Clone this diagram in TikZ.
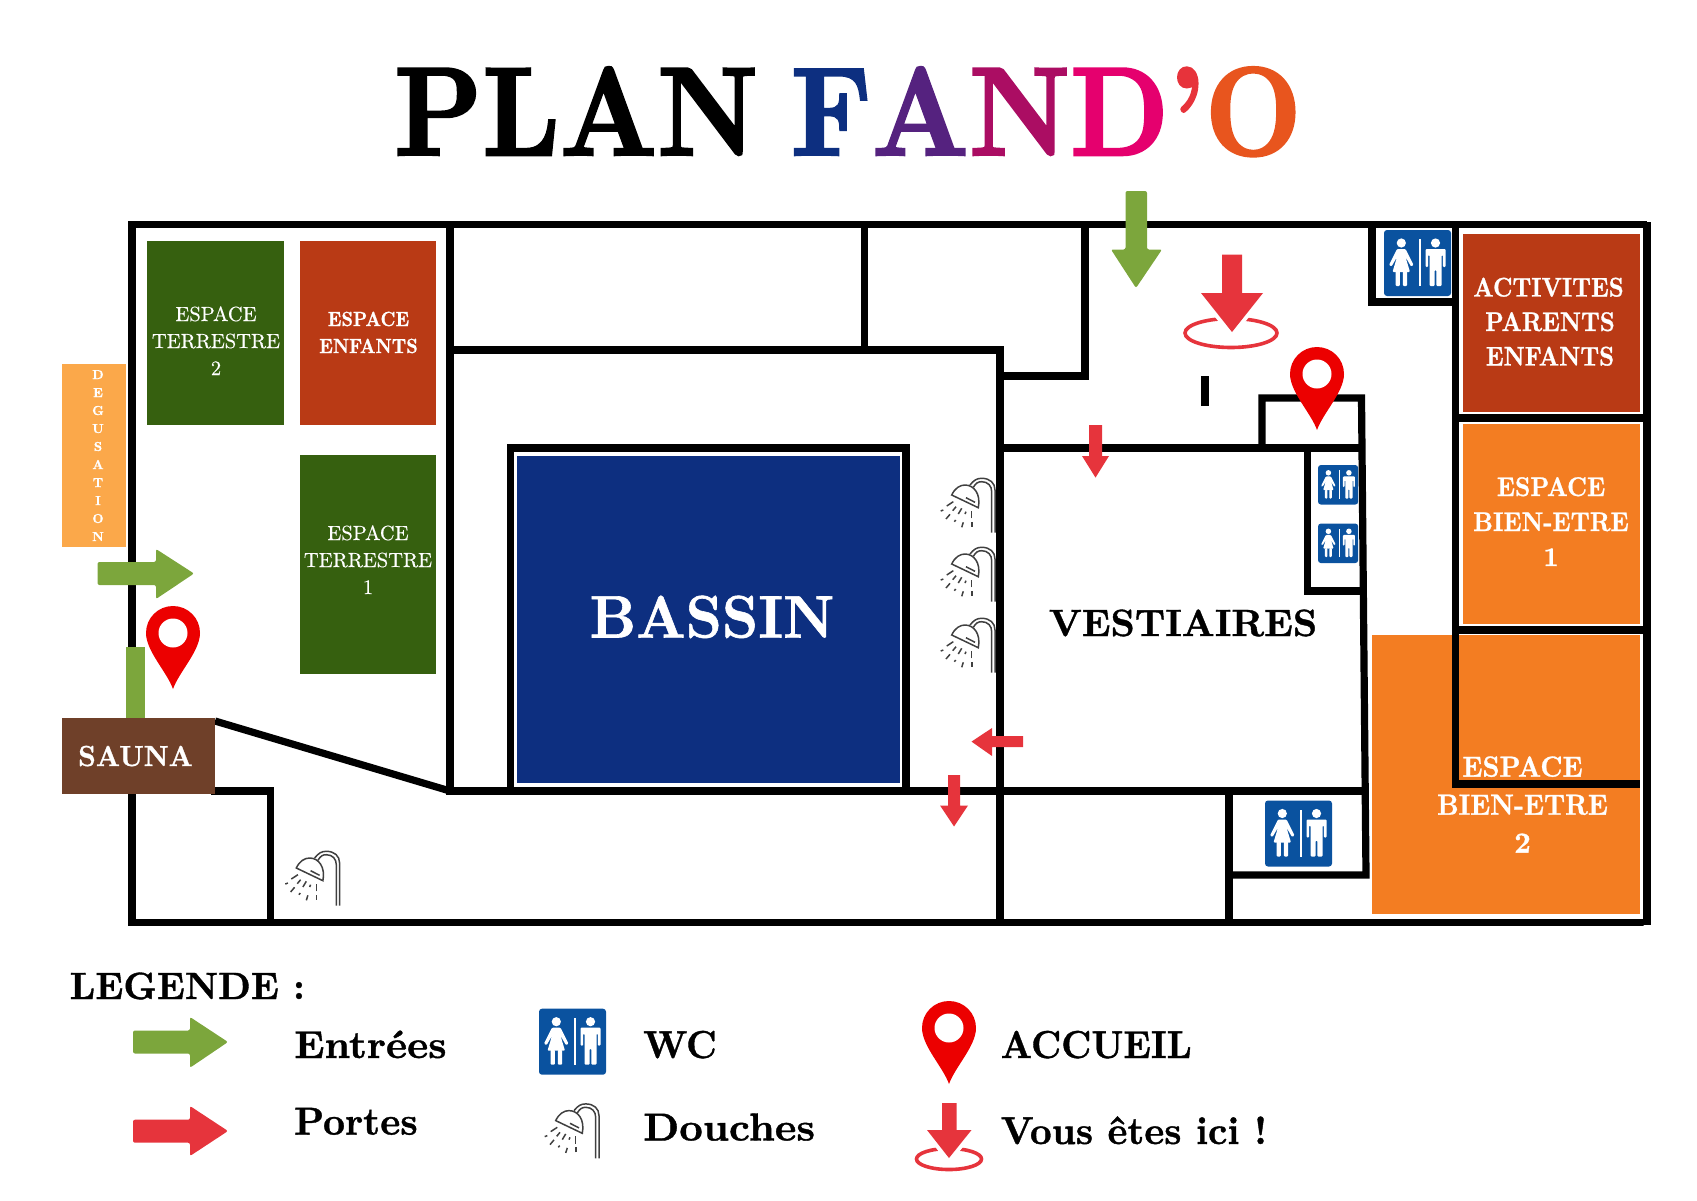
\documentclass[tikz,border=0pt]{standalone}
\usepackage{graphicx}
\usepackage{fontspec}
\newfontface\titleface{lmroman10-bold.otf}[FakeBold=2]
\newfontface\fatface{lmroman10-bold.otf}[FakeBold=1]
\newfontface\roomface{lmroman10-regular.otf}[FakeBold=.4]

\definecolor{bassinblue}{HTML}{0D2F80}
\definecolor{titleviolet}{HTML}{55227F}
\definecolor{titleplum}{HTML}{AB0D63}
\definecolor{titlepink}{HTML}{E5006E}
\definecolor{titlered}{HTML}{E7333B}
\definecolor{titleorange}{HTML}{E8551E}
\definecolor{terregreen}{HTML}{36600F}
\definecolor{rustred}{HTML}{B93A15}
\definecolor{wellorange}{HTML}{F37D22}
\definecolor{tasteorange}{HTML}{FBA84A}
\definecolor{saunabrown}{HTML}{6F4029}
\definecolor{arrowgreen}{HTML}{7CA63C}
\definecolor{arrowred}{HTML}{E6343C}
\definecolor{pinred}{HTML}{EC0000}
\definecolor{wcblue}{HTML}{0A529F}

\newcommand{\sx}[2]{\scalebox{#1}[1]{#2}}

\tikzset{
    wcsign/.pic={
        \fill[wcblue, rounded corners=3] (0,0) rectangle (67,66);
        \fill[white] (35,9) rectangle (36.5,56);
        % Woman
        \fill[white] (17.3,13) circle [radius=4.6];
        \fill[white, rounded corners=1] (13,19) -- (21.5,19) -- (29.5,35) -- (27,36.5) -- (21.5,27) -- (26,42) -- (8.5,42) -- (13,27) -- (7.5,36.5) -- (5,35) -- cycle;
        \fill[white, rounded corners=1] (11.5,41) rectangle (15.8,56);
        \fill[white, rounded corners=1] (18.8,41) rectangle (23.1,56);
        % Man
        \fill[white] (51.5,13) circle [radius=4.6];
        \fill[white, rounded corners=1] (41.5,37) -- (41.5,19) -- (61.5,19) -- (61.5,37) -- (58.8,37) -- (58.8,25) -- (57.5,25) -- (57.5,56) -- (52.3,56) -- (52.3,40) -- (50.7,40) -- (50.7,56) -- (45.5,56) -- (45.5,25) -- (44.2,25) -- (44.2,37) -- cycle;
    },
    douche/.pic={
        \begin{scope}[draw=black!75, line width=1.5]
        \draw (29,7) .. controls (33,2) and (36,0.3) .. (40.7,0.3) .. controls (49,0.3) and (54,5) .. (54,12) -- (54,54.7);
        \draw (32.3,9.3) .. controls (35,5) and (37,3.7) .. (40.7,3.7) .. controls (47,3.7) and (50.7,8) .. (50.7,13.7) -- (50.7,54.7);
        \draw (10.7,17) .. controls (14,10) and (19,7) .. (24,7) .. controls (33,7) and (40,16) .. (37.3,29.7) -- cycle;
        \draw (25,19.7) -- (34,24.3);
        \draw (5.7,28) -- (12.3,23.7);
        \draw (-0.3,33) -- (2.3,32);
        \draw (11.7,32.7) -- (15,28.7);
        \draw (5,41) -- (9,36.3);
        \draw (17.3,36) -- (20.7,30.3);
        \draw (13.3,43.7) -- (14.7,42);
        \draw (24,36) -- (25,33.7);
        \draw (20.7,49.3) -- (22.3,44.3);
        \draw (30.7,40.3) -- (30.7,32.7);
        \draw (31,48.7) -- (31,43.7);
        \end{scope}
    },
    accueilpin/.pic={
        \fill[pinred] (0,83) .. controls (-6,66) and (-27,45) .. (-27,27) .. controls (-27,12) and (-15,0) .. (0,0) .. controls (15,0) and (27,12) .. (27,27) .. controls (27,45) and (6,66) .. (0,83) -- cycle;
        \fill[white] (0,27) circle [radius=14.5];
    }
}

\begin{document}
\begin{tikzpicture}[
        x=1pt, y=-1pt,
        lbl/.style={anchor=base, inner sep=0pt, align=center},
        roomtext/.style={lbl, text=white},
        legendtext/.style={anchor=base west, inner sep=0pt, font=\fontsize{39}{39}\fatface},
        wall/.style={line width=7.2pt, line cap=rect, line join=miter},
        greenarrow/.style={fill=arrowgreen, rounded corners=2},
        redarrow/.style={fill=arrowred},
        herearrow/.style={fill=arrowred, preaction={draw=white, line width=8}},
        herering/.style={draw=arrowred, line width=3.6}
    ]
    \useasboundingbox (0,0) rectangle (1697,1200);

    % Title
    \node[anchor=base west, inner sep=0pt, font=\fontsize{126}{126}\titleface] (title) at (394,155)
        {\sx{.89}{PLAN\hspace{-12pt} \textcolor{bassinblue}{F}\textcolor{titleviolet}{A}\textcolor{titleplum}{N}\textcolor{titlepink}{D}\textcolor{titlered}{’}\textcolor{titleorange}{O}}};

    % Rooms
    \fill[terregreen] (147.4,241) rectangle (284,425);
    \fill[rustred] (300,241) rectangle (436,425);
    \fill[terregreen] (300,455) rectangle (436,673.5);
    \fill[tasteorange] (62,364) rectangle (126,547);
    \fill[bassinblue] (516.5,455.5) rectangle (900,783);
    \fill[rustred] (1463,233.5) rectangle (1640,412);
    \fill[wellorange] (1463,424) rectangle (1640,624);
    \fill[wellorange] (1372,635) rectangle (1640,914);

    % Walls
    \draw[wall] (132,224.5) -- (1643.5,224.5);
    \draw[wall] (1647,226) -- (1647,921);
    \draw[wall] (1643.5,922.5) -- (132,922.5) -- cycle;
    \draw[wall] (132,224.5) -- (132,922.5);
    \draw[wall] (450,224.5) -- (450,791);
    \draw[wall] (450,350) -- (1000,350);
    \draw[wall] (864.6,224.5) -- (864.6,350);
    \draw[wall] (1085,224.5) -- (1085,376) -- (1000,376);
    \draw[wall] (1000,350) -- (1000,922.5);
    \draw[wall] (510.5,791) -- (510.5,448) -- (906,448) -- (906,791);
    \draw[wall] (450,791) -- (1362,791);
    \draw[wall, line cap=butt] (215,721) -- (450,791);
    \draw[wall] (215,791) -- (270.5,791) -- (270.5,922.5);
    \draw[wall] (1000,448) -- (1361.5,448);
    \draw[wall] (1262,448) -- (1262,398) -- (1361.5,398) -- (1366,875) -- (1229,875);
    \draw[wall] (1229,791) -- (1229,922.5);
    \draw[wall] (1307.5,448) -- (1307.5,591) -- (1363,591);
    \draw[wall] (1372,224.5) -- (1372,302) -- (1455.5,302);
    \draw[wall] (1455.5,224.5) -- (1455.5,784) -- (1636,784);
    \draw[wall] (1455.5,418) -- (1647,418);
    \draw[wall] (1455.5,630) -- (1647,630);
    \draw[wall, line cap=butt] (1205,376) -- (1205,406);

    % Sauna
    \fill[arrowgreen] (126,646.7) rectangle (145,718);
    \fill[saunabrown] (62,718) rectangle (215,794.4);

    % Room labels
    \node[roomtext, font=\fontsize{20.5}{27}\roomface] (terrestre2) at (216,375) {ESPACE\\TERRESTRE\\2};
    \node[roomtext, font=\fontsize{20.5}{27}\fatface] (enfants) at (368.5,353) {\sx{.88}{ESPACE}\\\sx{.88}{ENFANTS}};
    \node[roomtext, font=\fontsize{20.5}{27}\roomface] (terrestre1) at (368,594) {ESPACE\\TERRESTRE\\1};
    \node[roomtext, font=\fontsize{13}{18}\fatface] (degustation) at (98,541) {D\\E\\G\\U\\S\\A\\T\\I\\O\\N};
    \node[roomtext, font=\fontsize{60}{60}\fatface] (bassin) at (712,637.5) {\sx{.948}{BASSIN}};
    \node[lbl, font=\fontsize{38}{38}\fatface] (vestiaires) at (1183,636) {VESTIAIRES};
    \node[roomtext, font=\fontsize{29}{29}\fatface] (sauna) at (135.5,766) {\sx{.957}{SAUNA}};
    \node[roomtext, font=\fontsize{27}{34.5}\fatface] (activites) at (1550,365.5) {\hspace{-3pt}\sx{.87}{ACTIVITES}\\\sx{.87}{PARENTS}\\\sx{.87}{ENFANTS}};
    \node[roomtext, font=\fontsize{27}{35}\fatface] (bienetre1) at (1551,566) {\sx{.89}{ESPACE}\\\sx{.89}{BIEN-ETRE}\\1};
    \node[roomtext, font=\fontsize{29}{38}\fatface] (bienetre2) at (1522.5,852.6) {\sx{.92}{ESPACE}\\\sx{.91}{BIEN-ETRE}\\2};

    % Arrows on the plan
    \fill[greenarrow] (97.5,562) -- (156,562) -- (156,549) -- (194,573.5) -- (156,599) -- (156,585) -- (97.5,585) -- cycle;
    \fill[greenarrow] (1125.5,191) -- (1147,191) -- (1147,249.5) -- (1162,249.5) -- (1136,288) -- (1111,249.5) -- (1125.5,249.5) -- cycle;
    \draw[herering] (1231,333) ellipse [x radius=46, y radius=14.5];
    \fill[herearrow] (1222,254.5) -- (1242,254.5) -- (1242,293) -- (1263,293) -- (1232,332) -- (1201,293) -- (1222,293) -- cycle;
    \fill[redarrow] (1089,425) -- (1102,425) -- (1102,456) -- (1109,456) -- (1095.5,477.6) -- (1082,456) -- (1089,456) -- cycle;
    \fill[redarrow] (1023,736) -- (992,736) -- (992,728) -- (971.5,741.6) -- (992,756) -- (992,747) -- (1023,747) -- cycle;
    \fill[redarrow] (948,775) -- (960,775) -- (960,805.5) -- (968,805.5) -- (954,826.5) -- (940,805.5) -- (948,805.5) -- cycle;

    % Pins, sanitary signs and showers on the plan
    \pic at (1317,347) {accueilpin};
    \pic at (173,606) {accueilpin};
    \pic at (1384,230) {wcsign};
    \pic at (1265,800.5) {wcsign};
    \pic[scale=.6] at (1318,465) {wcsign};
    \pic[scale=.6] at (1318,523.5) {wcsign};
    \pic at (941,478) {douche};
    \pic at (941,547) {douche};
    \pic at (941,618) {douche};
    \pic at (285.6,851) {douche};

    % Legend
    \node[anchor=base west, inner sep=0pt, font=\fontsize{38}{38}\fatface] (legende) at (69.5,999) {\sx{.975}{LEGENDE :}};
    \fill[greenarrow] (133,1030.5) -- (190,1030.5) -- (190,1017) -- (228,1042) -- (190,1067.7) -- (190,1053.5) -- (133,1053.5) -- cycle;
    \node[legendtext] (entrees) at (294,1058) {\sx{1.03}{Entrées}};
    \fill[greenarrow, fill=arrowred] (133,1119.7) -- (190,1119.7) -- (190,1106) -- (228,1131) -- (190,1156) -- (190,1142.7) -- (133,1142.7) -- cycle;
    \node[legendtext] (portes) at (294,1134.6) {\sx{.98}{Portes}};
    \pic at (539,1008.7) {wcsign};
    \node[legendtext] (wc) at (643,1058) {\sx{.95}{WC}};
    \pic at (545,1103.6) {douche};
    \node[legendtext] (douches) at (643,1140.5) {\sx{1.05}{Douches}};
    \pic at (949,1001) {accueilpin};
    \node[legendtext] (accueil) at (1000.5,1058) {\sx{.93}{ACCUEIL}};
    \draw[herering] (949,1159) ellipse [x radius=32.5, y radius=10.5];
    \fill[herearrow] (942,1103) -- (956.5,1103) -- (956.5,1130) -- (971.5,1130) -- (949,1158) -- (927,1130) -- (942,1130) -- cycle;
    \node[legendtext] (ici) at (1000.5,1144) {\sx{.97}{Vous êtes ici !}};
\end{tikzpicture}
\end{document}
